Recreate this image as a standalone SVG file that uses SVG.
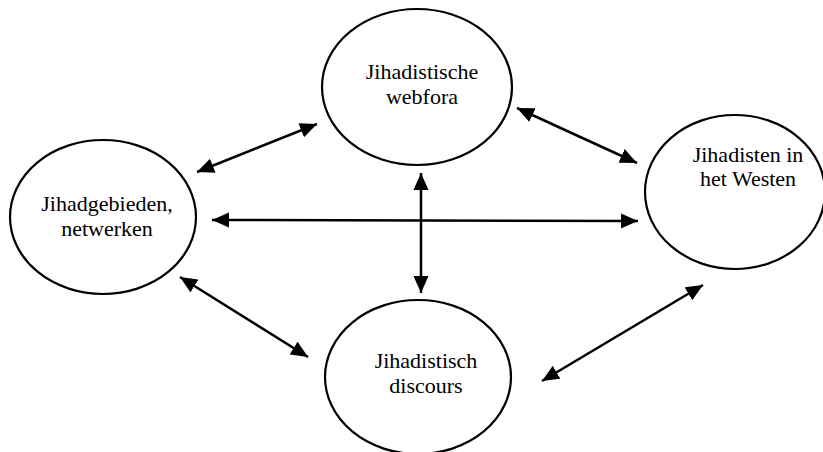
<svg xmlns="http://www.w3.org/2000/svg" width="823" height="452" viewBox="0 0 823 452">
<defs>
<style>
.node ellipse{fill:#fff;stroke:#000;stroke-width:2.2}
.node text{font-family:"Liberation Serif","Times New Roman",serif;font-size:22px;fill:#000;text-anchor:middle}
#connectors line{stroke:#000;stroke-width:2.5;marker-start:url(#ah);marker-end:url(#ah)}
</style>
<marker id="ah" markerUnits="userSpaceOnUse" markerWidth="18" markerHeight="16" refX="17" refY="7.5" orient="auto-start-reverse" viewBox="0 0 18 15">
<path d="M0,0 L17,7.5 L0,15 z" fill="#000"/>
</marker>
</defs>
<rect width="823" height="452" fill="#fff"/>
<g id="node-jihadgebieden" class="node" font-family="Liberation Serif, serif" font-size="22" text-anchor="middle">
<ellipse cx="103" cy="217" rx="93" ry="77"/>
<text x="107" y="211">Jihadgebieden,</text>
<text x="107" y="236">netwerken</text>
</g>
<g id="node-webfora" class="node" font-family="Liberation Serif, serif" font-size="22" text-anchor="middle">
<ellipse cx="417" cy="87" rx="95" ry="78"/>
<text x="422" y="79">Jihadistische</text>
<text x="422" y="104">webfora</text>
</g>
<g id="node-westen" class="node" font-family="Liberation Serif, serif" font-size="22" text-anchor="middle">
<ellipse cx="735" cy="192" rx="90" ry="77"/>
<text x="748" y="162">Jihadisten in</text>
<text x="748" y="186">het Westen</text>
</g>
<g id="node-discours" class="node" font-family="Liberation Serif, serif" font-size="22" text-anchor="middle">
<ellipse cx="418" cy="377" rx="93" ry="77"/>
<text x="426" y="368">Jihadistisch</text>
<text x="426" y="393">discours</text>
</g>
<g id="connectors">
<line x1="197" y1="172" x2="317" y2="124"/>
<line x1="212" y1="220" x2="638" y2="221"/>
<line x1="180" y1="277" x2="308" y2="357"/>
<line x1="421" y1="173" x2="421" y2="293"/>
<line x1="517" y1="108" x2="637" y2="163"/>
<line x1="703" y1="285" x2="542" y2="381"/>
</g>
</svg>
